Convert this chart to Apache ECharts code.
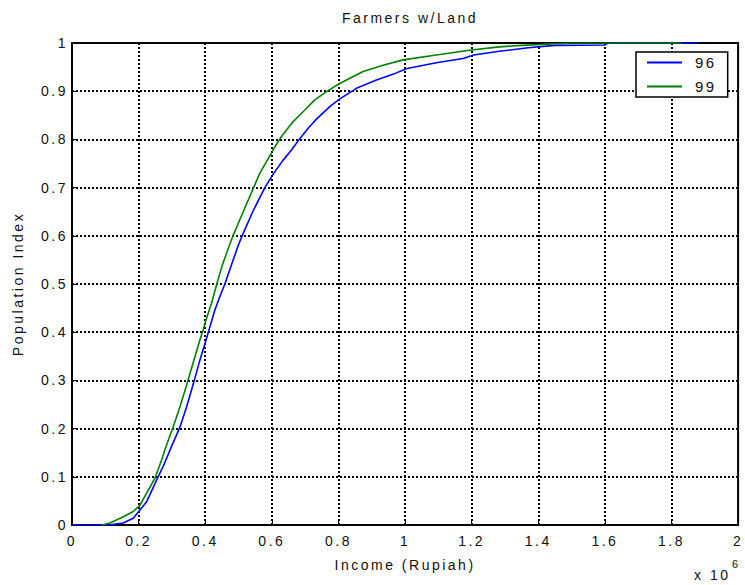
<!DOCTYPE html>
<html>
<head>
<meta charset="utf-8">
<script src="https://cdn.jsdelivr.net/npm/echarts@6/dist/echarts.min.js"></script>
<style>
html,body{margin:0;padding:0;background:#fff;}
#c{width:745px;height:585px;}
#c svg text{letter-spacing:2.5px;}
</style>
</head>
<body>
<div id="c"></div>
<script>
const title = 'Farmers w/Land';
const xName = 'Income (Rupiah)';
const yName = 'Population Index';
const seriesNames = ['96', '99'];
// [income (x 10^6), cumulative share]
const data96 = [[0.003,0],[0.11,0],[0.154,0.004],[0.184,0.014],[0.204,0.031],[0.224,0.048],[0.254,0.093],[0.274,0.122],[0.299,0.163],[0.324,0.203],[0.344,0.245],[0.366,0.297],[0.384,0.342],[0.401,0.380],[0.414,0.411],[0.429,0.446],[0.444,0.474],[0.459,0.500],[0.474,0.530],[0.499,0.580],[0.514,0.605],[0.544,0.652],[0.579,0.700],[0.606,0.730],[0.634,0.757],[0.659,0.778],[0.681,0.799],[0.709,0.823],[0.734,0.842],[0.774,0.868],[0.804,0.884],[0.834,0.897],[0.854,0.906],[0.914,0.923],[0.974,0.938],[1.006,0.947],[1.094,0.959],[1.174,0.968],[1.206,0.975],[1.283,0.983],[1.37,0.99],[1.45,0.995],[1.60,0.996],[1.61,1.0],[1.88,1.0]];
const data99 = [[0.09,0],[0.114,0.004],[0.154,0.017],[0.184,0.028],[0.204,0.041],[0.224,0.066],[0.249,0.097],[0.269,0.135],[0.284,0.166],[0.304,0.204],[0.324,0.245],[0.344,0.290],[0.369,0.349],[0.384,0.384],[0.394,0.405],[0.402,0.425],[0.419,0.460],[0.434,0.498],[0.449,0.534],[0.466,0.568],[0.484,0.601],[0.514,0.650],[0.544,0.698],[0.564,0.730],[0.584,0.754],[0.606,0.781],[0.629,0.806],[0.664,0.837],[0.699,0.861],[0.729,0.882],[0.764,0.899],[0.804,0.916],[0.834,0.927],[0.874,0.941],[0.934,0.954],[0.994,0.965],[1.094,0.975],[1.193,0.985],[1.283,0.992],[1.35,0.995],[1.47,0.999],[1.5,1.0],[1.83,1.0]];
const xTicks = {min: 0, max: 2, interval: 0.2};
const yTicks = {min: 0, max: 1, interval: 0.1};

const font = 'Liberation Sans, Arial, sans-serif';
const chart = echarts.init(document.getElementById('c'), null, {renderer: 'svg'});
const fmt = v => String(Math.round(v * 10) / 10);
const axisCommon = {
  axisLine: {show: true, lineStyle: {color: '#000', width: 2}},
  axisTick: {show: true, inside: true, length: 5, lineStyle: {color: '#000'}},
  splitLine: {show: true, lineStyle: {color: '#000', type: [2, 2], width: 2}},
  axisLabel: {color: '#111', fontSize: 14, fontFamily: font, formatter: fmt},
  nameTextStyle: {color: '#111', fontSize: 14, fontFamily: font}
};
chart.setOption({
  animation: false,
  backgroundColor: '#fff',
  title: {text: title, left: 405, top: 6, textAlign: 'center',
    textStyle: {fontSize: 14, fontWeight: 'normal', color: '#111', fontFamily: font}},
  grid: {left: 72, right: 6, top: 43, bottom: 60, show: true, borderColor: '#000', borderWidth: 2, backgroundColor: '#fff'},
  legend: {
    data: seriesNames, orient: 'vertical', left: 636, top: 52,
    icon: 'rect', itemWidth: 35, itemHeight: 2, itemGap: 9,
    padding: [3, 16, 3, 11],
    borderColor: '#000', borderWidth: 1.5, backgroundColor: '#fff',
    textStyle: {fontSize: 15, color: '#111', fontFamily: font, padding: [0, 0, 0, 8]}
  },
  xAxis: Object.assign({type: 'value', min: xTicks.min, max: xTicks.max, interval: xTicks.interval,
    name: xName, nameLocation: 'middle', nameGap: 33}, axisCommon,
    {axisLabel: Object.assign({}, axisCommon.axisLabel, {margin: 9})}),
  yAxis: Object.assign({type: 'value', min: yTicks.min, max: yTicks.max, interval: yTicks.interval,
    name: yName, nameLocation: 'middle', nameGap: 47}, axisCommon,
    {axisLabel: Object.assign({}, axisCommon.axisLabel, {margin: 4})}),
  series: [
    {name: seriesNames[0], type: 'line', data: data96, symbol: 'none', lineStyle: {color: '#0000ff', width: 1.6}, itemStyle: {color: '#0000ff'}},
    {name: seriesNames[1], type: 'line', data: data99, symbol: 'none', lineStyle: {color: '#008000', width: 1.6}, itemStyle: {color: '#008000'}}
  ],
  graphic: [
    {type: 'text', left: 694, top: 568, style: {text: 'x 10', fontSize: 14, fill: '#111', fontFamily: font}},
    {type: 'text', left: 732, top: 558, style: {text: '6', fontSize: 11, fill: '#111', fontFamily: font}}
  ]
});
</script>
</body>
</html>
